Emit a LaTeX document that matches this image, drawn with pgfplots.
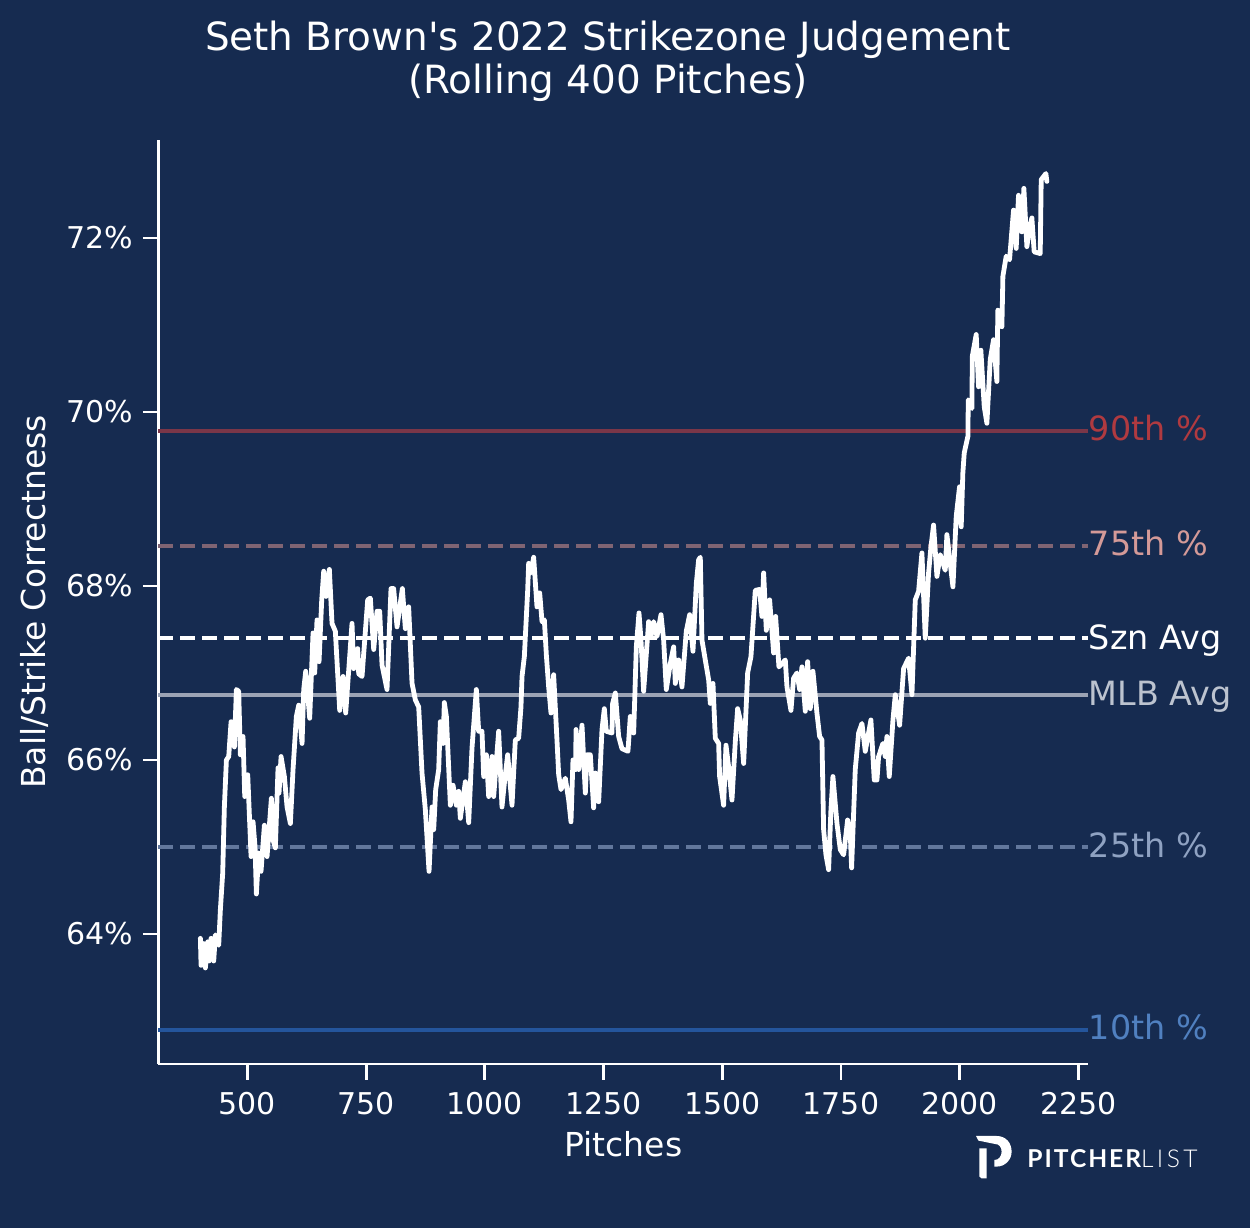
\documentclass[border=0pt]{standalone}
\usepackage{fontspec}
\setmainfont{DejaVu Sans}
\newfontfamily\logobold{Lato}[UprightFont=* Bold,LetterSpace=8]
\newfontfamily\logolight{Lato}[UprightFont=* Light,LetterSpace=14]
\usepackage{pgfplots}
\pgfplotsset{compat=1.18}
\definecolor{bg}{HTML}{162B50}
\definecolor{p90line}{HTML}{7A3648}
\definecolor{p90text}{HTML}{B03A40}
\definecolor{p75line}{HTML}{7F6473}
\definecolor{p75text}{HTML}{D49A98}
\definecolor{mlbline}{HTML}{9BA3B4}
\definecolor{mlbtext}{HTML}{BCC3CF}
\definecolor{p25line}{HTML}{62779C}
\definecolor{p25text}{HTML}{8FA2C2}
\definecolor{p10line}{HTML}{24559C}
\definecolor{p10text}{HTML}{5080C0}

\pgfplotstableread{
x y
401 63.95
402.4 63.64
408 63.89
411.5 63.61
416.5 63.91
419.3 63.69
423.5 63.95
429.1 63.69
432.6 63.99
439.6 63.87
443.1 64.28
448 64.70
451.5 65.46
455.8 66.00
460.7 66.04
465.6 66.44
472.6 66.15
476.8 66.81
481.7 66.79
485.2 66.06
490.8 66.27
494.4 65.58
500.7 65.83
504.9 65.27
507.7 64.89
511.9 65.29
516.1 65.00
518.9 64.46
523.8 64.93
528.7 64.72
535.8 65.25
541.4 64.89
550.5 65.56
554 65.08
558.9 64.99
564.5 65.91
566.6 65.62
570.9 66.04
577.9 65.81
583.5 65.46
590.5 65.27
596.1 65.89
603.1 66.50
608.1 66.63
615.1 66.19
618.6 66.81
622.8 67.02
631.2 66.48
638.2 67.46
641.7 67.00
646.6 67.61
650.9 67.13
656.5 67.84
660.7 68.17
665.6 67.88
672.6 68.19
678.2 67.57
685.2 67.48
694.4 66.57
701.4 66.96
707 66.54
720.3 67.57
723.8 67.05
732.3 67.28
734.4 66.99
741.4 66.96
753.3 67.84
758.9 67.86
766 67.27
773 67.71
778.6 67.71
783.5 67.09
794 66.81
802.4 67.97
808 67.97
815.1 67.53
826.3 67.97
832.6 67.51
839.6 67.76
846.7 66.88
853.7 66.69
860.7 66.61
867.7 65.85
874.7 65.43
882.5 64.72
888.8 65.46
892.3 65.20
896.5 65.66
902.8 65.89
906.3 66.44
912 66.19
914.7 66.66
919 66.50
927.4 65.48
933 65.71
940 65.48
944.9 65.64
948.4 65.33
959 65.75
966 65.28
973 66.14
982.1 66.81
987 66.33
994 66.33
997.6 65.81
1003.2 66.06
1008.1 65.58
1015.1 66.04
1018.6 65.58
1029.1 66.33
1036.1 65.46
1041.8 65.77
1048.1 66.06
1057.2 65.48
1064.2 66.23
1071.2 66.25
1076.1 66.61
1078.3 66.96
1083.2 67.19
1090.2 67.95
1092.3 68.26
1097.2 68.15
1102.8 68.33
1109.8 67.76
1115.5 67.92
1120.4 67.59
1125.3 67.61
1129.5 67.21
1134.4 66.84
1139.3 66.54
1144.9 66.98
1151.9 66.23
1155.5 65.83
1160.4 65.66
1169.5 65.79
1176.5 65.54
1181.4 65.29
1185.6 66.00
1191.2 65.89
1192 66.35
1197.6 65.89
1204.6 66.40
1211.6 65.62
1215.1 66.06
1222.1 66.06
1229.1 65.45
1232.6 65.85
1239.7 65.52
1246.7 66.35
1251.6 66.59
1255.8 66.33
1267.7 66.31
1269.1 66.65
1274.8 66.77
1281.8 66.27
1288.8 66.13
1301.4 66.10
1306.3 66.50
1313.4 66.31
1319 67.30
1324.6 67.69
1328.8 67.38
1334.4 66.79
1344.9 67.59
1349.9 67.42
1355.5 67.59
1362.5 67.42
1370.9 67.67
1376.5 67.38
1382.1 66.81
1390.6 67.11
1397.6 67.30
1401.1 66.88
1408.1 67.15
1415.1 66.84
1424.2 67.48
1431.3 67.67
1438.3 67.25
1445.3 68.03
1450.2 68.30
1453.7 68.33
1457.2 67.38
1464.2 67.15
1471.3 66.92
1474.8 66.65
1480.4 66.88
1485.3 66.25
1492.3 66.19
1494.4 65.81
1502.8 65.48
1507.8 66.17
1513.4 65.92
1520.4 65.54
1527.4 66.21
1532.3 66.59
1537.9 66.46
1545 65.96
1550.6 66.65
1553.4 67.00
1560.4 67.19
1569.5 67.95
1578.6 67.96
1583.5 67.65
1587.1 68.15
1592.7 67.49
1599.7 67.84
1608.1 67.23
1612.3 67.65
1619.3 67.07
1632.7 67.15
1636.2 66.84
1644.6 66.57
1650.2 66.94
1657.2 67.00
1662.9 66.81
1667.8 67.07
1674.8 66.56
1679.7 67.13
1685.3 66.59
1690.9 67.02
1699.3 66.54
1705 66.27
1709.9 66.23
1713.4 65.20
1718.3 64.91
1723.9 64.74
1728.8 65.43
1733 65.81
1741.5 65.27
1748.5 64.97
1755.5 64.91
1763.9 65.31
1769.5 65.16
1772.3 64.76
1780 65.89
1787.1 66.31
1794.1 66.42
1801.1 66.10
1813 66.46
1820 65.77
1825.7 65.77
1829.2 66.04
1838.3 66.19
1843.2 66.04
1846.7 66.27
1851.6 65.81
1859.4 66.46
1864.3 66.75
1873.4 66.40
1881.8 67.05
1892.3 67.17
1899.4 66.75
1906.4 67.84
1913.4 67.94
1920.4 68.38
1927.4 67.40
1934.4 68.15
1939.4 68.45
1944.9 68.70
1952 68.11
1959 68.36
1969.5 68.18
1973 68.59
1985.7 67.99
1992.6 68.80
1999.6 69.14
2003.1 68.68
2006.6 69.30
2009.5 69.53
2017.2 69.72
2018 70.14
2025.6 70.04
2026.5 70.64
2034.7 70.89
2039.6 70.29
2044.5 70.71
2051.6 70.06
2057.2 69.87
2064.2 70.60
2071.2 70.83
2078.2 70.35
2080.3 71.17
2088.8 70.98
2090.9 71.56
2097.9 71.79
2104.9 71.75
2113.3 72.32
2118.9 71.88
2123.8 72.49
2130.9 72.07
2135.1 72.57
2141.4 71.90
2146.3 72.09
2151.9 72.23
2156.8 71.84
2169.5 71.82
2171.6 72.67
2181.4 72.74
2183.5 72.65
}\rolling

\begin{document}
\begin{tikzpicture}[x=1bp,y=1bp]
    % page background, everything else sits inside it
    \fill[bg] (0,0) rectangle (625,614);

    \begin{axis}[
        at={(79.2bp,82bp)},
        anchor=south west,
        scale only axis,
        width=465bp,
        height=462bp,
        xmin=312.6,xmax=2271,
        ymin=62.506,ymax=73.126,
        axis x line*=bottom,
        axis y line*=left,
        axis line style={white,line width=1.4bp,-},
        every tick/.style={white,line width=1.4bp},
        major tick length=7.8bp,
        tick align=outside,
        xtick={500,750,1000,1250,1500,1750,2000,2250},
        ytick={64,66,68,70,72},
        yticklabel={\pgfmathprintnumber{\tick}\%},
        /pgf/number format/assume math mode=true,
        /pgf/number format/1000 sep={},
        ticklabel style={text=white,font=\fontsize{15bp}{18bp}\selectfont},
        xticklabel style={yshift=-3bp},
        yticklabel style={xshift=-1.5bp},
        xlabel={Pitches},
        ylabel={Ball/Strike Correctness},
        every axis x label/.style={at={(rel axis cs:0.5,0)},yshift=-40bp,anchor=center},
        every axis y label/.style={at={(rel axis cs:0,0.5)},xshift=-62bp,rotate=90,anchor=center},
        label style={text=white,font=\fontsize{16.5bp}{19bp}\selectfont},
        clip=false,
    ]
    % reference levels
    \addplot[p90line,line width=1.8bp] coordinates {(312.6,69.78) (2271,69.78)};
    \addplot[p75line,line width=1.8bp,dash pattern=on 7.5bp off 3.5bp] coordinates {(312.6,68.46) (2271,68.46)};
    \addplot[mlbline,line width=1.8bp] coordinates {(312.6,66.75) (2271,66.75)};
    \addplot[p25line,line width=1.8bp,dash pattern=on 7.5bp off 3.5bp] coordinates {(312.6,65.00) (2271,65.00)};
    \addplot[p10line,line width=1.8bp] coordinates {(312.6,62.897) (2271,62.897)};
    \addplot[white,line width=1.8bp,dash pattern=on 7.5bp off 3.5bp] coordinates {(312.6,67.40) (2271,67.40)};

    % rolling rate
    \addplot[white,line width=2.4bp,line join=round,line cap=round] table[x=x,y=y] {\rolling};

    \begin{scope}[every node/.style={anchor=base west,inner sep=0pt,font=\fontsize{16.7bp}{19bp}\selectfont}]
    \node[text=p90text,yshift=-4.9bp] at (axis cs:2271,69.78) {90th \%};
    \node[text=p75text,yshift=-4.9bp] at (axis cs:2271,68.46) {75th \%};
    \node[text=white,yshift=-5.6bp] at (axis cs:2271,67.40) {Szn Avg};
    \node[text=mlbtext,yshift=-5.3bp] at (axis cs:2271,66.75) {MLB Avg};
    \node[text=p25text,yshift=-5.5bp] at (axis cs:2271,65.00) {25th \%};
    \node[text=p10text,yshift=-5bp] at (axis cs:2271,62.897) {10th \%};
    \end{scope}
    \end{axis}

    \node[align=center,text=white,font=\fontsize{19.45bp}{21.5bp}\selectfont] at (304,583.5)
        {Seth Brown\textquotesingle s 2022 Strikezone Judgement\\(Rolling 400 Pitches)};

    % logo
    \fill[white] (488,46) -- (498.3,46) .. controls (503,46) and (505.8,42.5) .. (505.8,38.2)
        .. controls (505.8,34) and (502.5,30.7) .. (498.3,30.7) -- (497.2,30.7) -- (497.2,34)
        .. controls (499.5,34) and (500.8,36) .. (500.8,38.2) .. controls (500.8,40.5) and (499.5,42) .. (497.5,42)
        -- (489.2,43.7) -- cycle;
    \fill[white] (489.7,39.8) -- (493.3,39.8) -- (493.3,24.8) -- (490.8,24.8) -- (489.7,25.7) -- cycle;
    \node[anchor=base west,inner sep=0pt,text=white,font=\fontsize{12.3bp}{14bp}\logobold] at (513.5,30.2)
        {PITCHER{\logolight LIST}};
\end{tikzpicture}
\end{document}
